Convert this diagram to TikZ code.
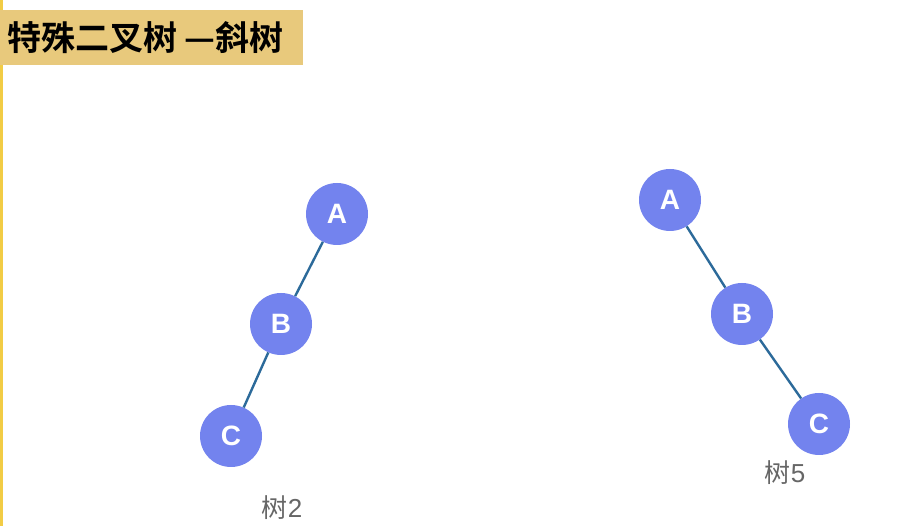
\documentclass[tikz,border=0pt]{standalone}
\usepackage{fontspec}
\setmainfont{Liberation Sans}
\newfontfamily\cjk{Noto Sans CJK SC}
\newfontfamily\cjkb{Noto Sans CJK SC Bold}
\definecolor{nodeblue}{HTML}{7383EE}
\definecolor{edgeblue}{HTML}{2C6A9A}
\definecolor{banner}{HTML}{E8C97C}
\definecolor{sideline}{HTML}{F2CC45}
\definecolor{lbl}{HTML}{666666}
\tikzset{
  tnode/.style={circle, fill=nodeblue, minimum size=62pt, inner sep=0pt, text=white, font=\fontsize{28}{28}\selectfont\bfseries},
  tedge/.style={draw=edgeblue, line width=2.4pt},
  tlabel/.style={text=lbl, font=\fontsize{26}{26}\selectfont, inner sep=0pt}
}
\begin{document}
\begin{tikzpicture}[x=1pt,y=-1pt]
\useasboundingbox (0,0) rectangle (906,526);
\fill[white] (0,0) rectangle (906,526);
\draw[sideline, line width=3pt] (1.5,0) -- (1.5,526);
\node[fill=banner, minimum width=303pt, minimum height=55pt, anchor=north west, inner sep=0pt] (banner) at (0,10) {};
\node[anchor=west, inner sep=0pt, font=\cjkb\fontsize{34}{34}\selectfont] (title) at (7,38) {特殊二叉树 —斜树};
% tree 2
\node[tnode] (a2) at (337,214) {A};
\node[tnode] (b2) at (281,324) {B};
\node[tnode] (c2) at (231,436) {C};
\draw[tedge] (a2) -- (b2);
\draw[tedge] (b2) -- (c2);
\node[tlabel] (l2) at (282,508) {{\cjk 树}2};
% tree 5
\node[tnode] (a5) at (670,200) {A};
\node[tnode] (b5) at (742,314) {B};
\node[tnode] (c5) at (819,424) {C};
\draw[tedge] (a5) -- (b5);
\draw[tedge] (b5) -- (c5);
\node[tlabel] (l5) at (785,473) {{\cjk 树}5};
\end{tikzpicture}
\end{document}
